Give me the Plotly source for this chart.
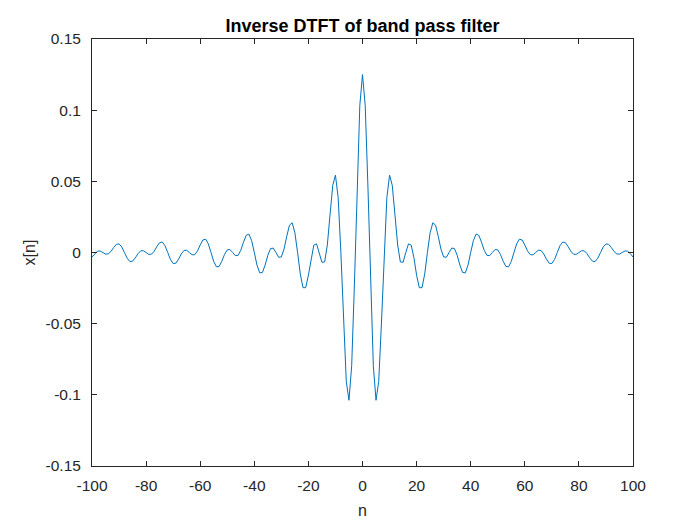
import plotly.graph_objects as go

n_values = list(range(-100, 101))

x_values = [
    -0.00318, -0.00070, 0.00095, 0.00106, 0, -0.00109, -0.00099, 0.00074, 0.00346, 0.00571,
    0.00604, 0.00390, 0, -0.00399, -0.00632, -0.00611, -0.00379, -0.00083, 0.00114, 0.00127,
    0, -0.00131, -0.00120, 0.00090, 0.00419, 0.00692, 0.00734, 0.00475, 0, -0.00489,
    -0.00776, -0.00752, -0.00468, -0.00103, 0.00141, 0.00159, 0, -0.00164, -0.00150, 0.00113,
    0.00531, 0.00880, 0.00937, 0.00609, 0, -0.00631, -0.01006, -0.00980, -0.00612, -0.00135,
    0.00186, 0.00211, 0, -0.00220, -0.00203, 0.00153, 0.00723, 0.01207, 0.01294, 0.00846,
    0, -0.00889, -0.01430, -0.01403, -0.00884, -0.00197, 0.00274, 0.00313, 0, -0.00333,
    -0.00311, 0.00238, 0.01137, 0.01923, 0.02090, 0.01388, 0, -0.01508, -0.02470, -0.02472,
    -0.01592, -0.00363, 0.00518, 0.00608, 0, -0.00688, -0.00666, 0.00531, 0.02653, 0.04720,
    0.05434, 0.03854, 0, -0.04956, -0.09057, -0.10383, -0.07958, -0.02300, 0.04662, 0.10327,
    0.125,
    0.10327, 0.04662, -0.02300, -0.07958, -0.10383, -0.09057, -0.04956, 0, 0.03854, 0.05434,
    0.04720, 0.02653, 0.00531, -0.00666, -0.00688, 0, 0.00608, 0.00518, -0.00363, -0.01592,
    -0.02472, -0.02470, -0.01508, 0, 0.01388, 0.02090, 0.01923, 0.01137, 0.00238, -0.00311,
    -0.00333, 0, 0.00313, 0.00274, -0.00197, -0.00884, -0.01403, -0.01430, -0.00889, 0,
    0.00846, 0.01294, 0.01207, 0.00723, 0.00153, -0.00203, -0.00220, 0, 0.00211, 0.00186,
    -0.00135, -0.00612, -0.00980, -0.01006, -0.00631, 0, 0.00609, 0.00937, 0.00880, 0.00531,
    0.00113, -0.00150, -0.00164, 0, 0.00159, 0.00141, -0.00103, -0.00468, -0.00752, -0.00776,
    -0.00489, 0, 0.00475, 0.00734, 0.00692, 0.00419, 0.00090, -0.00120, -0.00131, 0,
    0.00127, 0.00114, -0.00083, -0.00379, -0.00611, -0.00632, -0.00399, 0, 0.00390, 0.00604,
    0.00571, 0.00346, 0.00074, -0.00099, -0.00109, 0, 0.00106, 0.00095, -0.00070, -0.00318,
]

x_tick_vals = [-100, -80, -60, -40, -20, 0, 20, 40, 60, 80, 100]
x_tick_text = ["-100", "-80", "-60", "-40", "-20", "0", "20", "40", "60", "80", "100"]
y_tick_vals = [-0.15, -0.1, -0.05, 0, 0.05, 0.1, 0.15]
y_tick_text = ["-0.15", "-0.1", "-0.05", "0", "0.05", "0.1", "0.15"]

FONT = "Liberation Sans, Arial, sans-serif"
AX = "#262626"

fig = go.Figure()
fig.add_trace(go.Scatter(
    x=n_values, y=x_values, mode="lines",
    line=dict(color="#0072BD", width=1),
    showlegend=False,
))

axis_common = dict(
    showgrid=False, zeroline=False, showline=True, linecolor=AX, linewidth=1,
    mirror="ticks", ticks="inside", ticklen=5, tickwidth=1, tickcolor=AX,
    tickfont=dict(family=FONT, size=15.5, color=AX),
)

fig.update_layout(
    width=700, height=525, autosize=False,
    paper_bgcolor="white", plot_bgcolor="white",
    margin=dict(l=83.7, r=74.7, t=31.3, b=67),
    title=dict(text="<b>Inverse DTFT of band pass filter</b>",
               font=dict(family=FONT, size=18, color="black"),
               x=0.5, xref="paper", xanchor="center",
               y=1 - 17.5 / 525, yref="container", yanchor="middle"),
    xaxis=dict(range=[-100, 100], tickvals=x_tick_vals, ticktext=x_tick_text,
               title=dict(text="n", font=dict(family=FONT, size=16, color=AX), standoff=12),
               ticklabelstandoff=5, **axis_common),
    yaxis=dict(range=[-0.15, 0.15], tickvals=y_tick_vals, ticktext=y_tick_text,
               title=dict(text="x[n]", font=dict(family=FONT, size=16, color=AX), standoff=5),
               ticklabelstandoff=7, **axis_common),
)

fig.write_html("out.html")
